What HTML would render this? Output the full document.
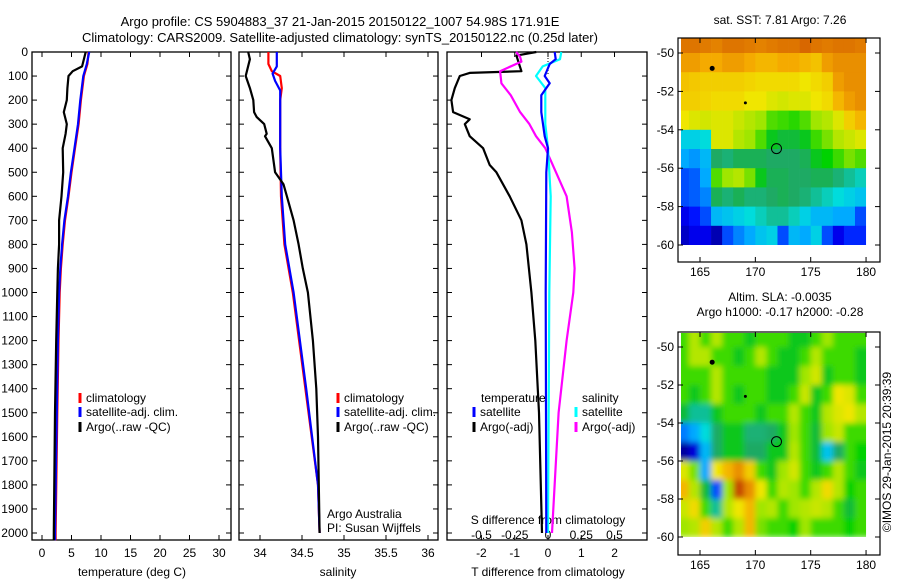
<!DOCTYPE html>
<html><head><meta charset="utf-8"><style>
body{margin:0;background:#fff}
svg{display:block;font-family:"Liberation Sans",sans-serif}
text{font-size:12px;fill:#000}
</style></head><body>
<svg id="c" width="900" height="580" viewBox="0 0 900 580" xmlns="http://www.w3.org/2000/svg">
<defs>
<filter id="blur" x="-5%" y="-5%" width="110%" height="110%"><feGaussianBlur stdDeviation="3"/></filter>
<clipPath id="slaclip"><rect x="679" y="333" width="189" height="211"/></clipPath>
</defs>
<text x="340" y="26" text-anchor="middle" style="font-size:13px">Argo profile: CS 5904883_37 21-Jan-2015 20150122_1007 54.98S 171.91E</text>
<text x="340" y="42" text-anchor="middle" style="font-size:13px">Climatology: CARS2009. Satellite-adjusted climatology: synTS_20150122.nc (0.25d later)</text>
<g id="g"></g>
</svg>
<script>
// ---- depth-axis data ----
const depthTicks=[0,100,200,300,400,500,600,700,800,900,1000,1100,1200,1300,1400,1500,1600,1700,1800,1900,2000];
// temperature panel
const tempTicks=[0,5,10,15,20,25,30];
const tClimD=[0,50,100,200,300,400,500,600,700,800,900,1000,1200,1500,2000,2030];
const tClimV=[7.9,7.7,7.1,6.6,6.2,5.6,5.0,4.5,3.9,3.5,3.2,3.0,2.8,2.6,2.3,2.3];
const tSatD=[0,50,100,200,300,400,500,600,700,800,900,1000,1200,1500,2000,2030];
const tSatV=[8.0,7.6,7.0,6.5,6.1,5.5,4.9,4.4,3.8,3.4,3.1,2.9,2.7,2.5,2.2,2.2];
const tArgoD=[0,20,60,80,100,150,200,250,300,340,400,500,600,700,800,900,1000,1200,1500,2000,2030];
const tArgoV=[7.4,7.2,6.8,5.2,4.5,4.3,4.2,3.7,4.2,4.0,3.5,3.6,3.3,2.9,2.9,2.7,2.6,2.4,2.2,2.0,2.0];
// salinity panel
const salTicks=[34,34.5,35,35.5,36];
const sClimD=[0,50,80,100,150,200,400,600,800,1000,1400,1800,2000];
const sClimV=[34.1,34.1,34.14,34.24,34.26,34.24,34.24,34.25,34.29,34.39,34.54,34.69,34.71];
const sSatD=[0,60,90,120,160,200,400,600,800,1000,1400,1800,2000];
const sSatV=[34.2,34.2,34.15,34.18,34.24,34.24,34.24,34.26,34.30,34.40,34.55,34.69,34.71];
const sArgoD=[0,30,100,150,200,250,270,300,340,350,400,500,550,600,700,800,900,1000,1200,1400,1600,1800,2000];
const sArgoV=[33.86,33.88,33.83,33.88,33.92,33.93,33.96,34.05,34.08,34.06,34.14,34.18,34.28,34.32,34.40,34.46,34.51,34.57,34.63,34.67,34.69,34.70,34.71];
// difference panel
const dTTicks=[-2,-1,0,1,2];
const dSTicks=[-0.5,-0.25,0,0.25,0.5];
const dTArgoD=[0,15,80,87,100,150,200,250,280,300,350,400,470,500,600,700,800,1000,1200,1500,2000];
const dTArgoV=[-0.35,-0.95,-0.8,-2.35,-2.65,-2.8,-2.9,-2.85,-2.35,-2.5,-2.35,-1.95,-1.75,-1.55,-1.15,-0.8,-0.65,-0.5,-0.38,-0.27,-0.18];
const dTSatD=[0,30,50,100,130,180,250,350,400,500,1000,2000];
const dTSatV=[0.2,0.23,0.05,-0.1,0.05,-0.2,-0.2,-0.1,0,-0.05,-0.07,-0.05];
const dSArgoD=[0,20,40,80,130,180,250,300,350,400,500,600,750,900,1000,1200,1500,2000];
const dSArgoV=[-0.24,-0.21,-0.2,-0.36,-0.35,-0.28,-0.21,-0.14,-0.09,-0.02,0.06,0.14,0.18,0.2,0.19,0.14,0.08,0.03];
const dSSatD=[0,30,60,100,150,200,300,400,600,1000,2000];
const dSSatV=[0.1,0.09,-0.04,-0.09,-0.02,-0.02,-0.02,0,0.02,0.01,0];
// maps (values 0..1 colour index), rows lat -49.5 .. -59.5, cols lon 163.5 .. 179.5
const sstGrid=[
[.86,.86,.85,.84,.86,.86,.85,.84,.85,.86,.86,.88,.86,.85,.86,.86,.85],
[.8,.8,.78,.78,.8,.8,.78,.76,.76,.78,.78,.76,.74,.8,.82,.82,.82],
[.74,.73,.72,.72,.72,.72,.71,.7,.7,.7,.7,.68,.7,.72,.8,.82,.82],
[.72,.72,.71,.7,.7,.7,.68,.68,.66,.65,.66,.66,.68,.7,.76,.8,.82],
[.68,.66,.65,.66,.66,.64,.62,.6,.56,.55,.54,.56,.6,.62,.66,.72,.76],
[.36,.36,.38,.66,.66,.62,.6,.56,.5,.48,.48,.5,.55,.58,.62,.64,.66],
[.3,.28,.32,.45,.44,.46,.46,.46,.45,.45,.45,.46,.5,.52,.55,.58,.56],
[.2,.22,.3,.56,.6,.62,.58,.5,.46,.46,.45,.45,.46,.46,.44,.42,.4],
[.2,.22,.26,.46,.44,.46,.44,.44,.45,.46,.45,.44,.42,.4,.38,.36,.34],
[.1,.14,.2,.32,.34,.36,.38,.4,.42,.42,.4,.36,.32,.32,.3,.3,.2],
[.06,.1,.1,.04,.2,.26,.3,.34,.36,.2,.32,.3,.36,.2,.1,.16,.16]];
const slaGrid=[
[.55,.62,.55,.62,.55,.55,.5,.55,.55,.55,.5,.5,.55,.6,.55,.55,.55],
[.55,.62,.62,.55,.55,.5,.55,.62,.55,.5,.5,.55,.62,.55,.55,.55,.5],
[.55,.55,.55,.62,.55,.55,.55,.55,.5,.5,.5,.6,.65,.5,.55,.55,.5],
[.55,.5,.55,.62,.55,.5,.55,.55,.5,.5,.55,.64,.5,.55,.68,.66,.55],
[.48,.42,.42,.5,.55,.55,.55,.5,.55,.55,.62,.55,.5,.62,.66,.68,.62],
[.25,.3,.38,.45,.5,.5,.44,.44,.45,.5,.6,.55,.48,.6,.64,.55,.55],
[.02,.08,.32,.45,.5,.5,.45,.45,.5,.5,.62,.55,.48,.34,.45,.55,.52],
[.66,.58,.3,.68,.76,.82,.72,.55,.5,.6,.65,.55,.5,.55,.62,.55,.5],
[.76,.62,.48,.2,.6,.92,.82,.68,.55,.62,.6,.55,.62,.7,.62,.52,.55],
[.64,.7,.55,.42,.62,.68,.76,.6,.62,.55,.6,.62,.64,.62,.55,.48,.55],
[.6,.62,.72,.62,.55,.62,.76,.58,.55,.55,.52,.6,.55,.55,.55,.52,.55]];
const latTicks=[-50,-52,-54,-56,-58,-60];
const lonTicks=[165,170,175,180];

const NS="http://www.w3.org/2000/svg";
const G=document.getElementById('g');
function el(t,a,p){const e=document.createElementNS(NS,t);for(const k in a)e.setAttribute(k,a[k]);(p||G).appendChild(e);return e;}
const Y0=52,YB=540;
function yD(d){return Y0+0.2405*d;}
const panels=[
 {x0:32,x1:231,f:v=>42+5.9*v,name:'temperature'},
 {x0:239,x1:438,f:v=>260+84*(v-34),name:'salinity'},
 {x0:447,x1:647,f:v=>548+33.3*v,name:'difference'}];
function frame(p){
 const r=el('rect',{x:p.x0,y:Y0,width:p.x1-p.x0,height:YB-Y0,fill:'none',stroke:'#000','stroke-width':1.3});
 
 
 depthTicks.forEach(d=>{const y=yD(d);
  el('line',{x1:p.x0,x2:p.x0+5,y1:y,y2:y,stroke:'#000'});
  el('line',{x1:p.x1,x2:p.x1-5,y1:y,y2:y,stroke:'#000'});});
}
panels.forEach(frame);
depthTicks.forEach(d=>{const t=el('text',{x:28,y:yD(d)+4,'text-anchor':'end'});t.textContent=d;
 
 });
function xticks(p,ticks,f,ly,top){
 ticks.forEach(v=>{const x=f(v);
  el('line',{x1:x,x2:x,y1:YB,y2:YB-5,stroke:'#000'});
  if(top)el('line',{x1:x,x2:x,y1:Y0,y2:Y0+5,stroke:'#000'});
  const t=el('text',{x:x,y:ly,'text-anchor':'middle'});t.textContent=v;
  
  });
}
xticks(panels[0],tempTicks,panels[0].f,557,true);
xticks(panels[1],salTicks,panels[1].f,557,true);
xticks(panels[2],dTTicks,panels[2].f,557,false);
const fS=v=>548+133*v;
dSTicks.forEach(v=>{const x=fS(v);el('line',{x1:x,x2:x,y1:Y0,y2:Y0+5,stroke:'#000'});
 const t=el('text',{x:x,y:539,'text-anchor':'middle'});t.textContent=v;
 
 });
function txt(x,y,s,name,anchor){const t=el('text',{x:x,y:y,'text-anchor':anchor||'start'});t.textContent=s;
 
 return t;}
txt(132,576,'temperature (deg C)','temperature-axis-title','middle');
txt(338,576,'salinity','salinity-axis-title','middle');
txt(548,576,'T difference from climatology','t-diff-axis-title','middle');
txt(548,524,'S difference from climatology','s-diff-axis-title','middle');
function line(D,V,f,col,name,w){
 const pts=D.map((d,i)=>f(V[i]).toFixed(1)+','+yD(d).toFixed(1)).join(' ');
 const l=el('polyline',{points:pts,fill:'none',stroke:col,'stroke-width':w||2.2,'stroke-linejoin':'round'});
 
 
}
line(tClimD,tClimV,panels[0].f,'#f00','temp-climatology-line');
line(tSatD,tSatV,panels[0].f,'#00f','temp-satellite-line');
line(tArgoD,tArgoV,panels[0].f,'#000','temp-argo-line');
line(sClimD,sClimV,panels[1].f,'#f00','sal-climatology-line');
line(sSatD,sSatV,panels[1].f,'#00f','sal-satellite-line');
line(sArgoD,sArgoV,panels[1].f,'#000','sal-argo-line');
el('line',{x1:548,x2:548,y1:Y0,y2:yD(100),stroke:'#000','stroke-dasharray':'1,2'});
line(dTArgoD,dTArgoV,panels[2].f,'#000','t-diff-argo-line');
line(dSArgoD,dSArgoV,fS,'#f0f','s-diff-argo-line');
line(dSSatD,dSSatV,fS,'#0ff','s-diff-satellite-line');
line(dTSatD,dTSatV,panels[2].f,'#00f','t-diff-satellite-line');
function leg(x,y,col,s,name){el('line',{x1:x,x2:x,y1:y-9,y2:y+1,stroke:col,'stroke-width':3});txt(x+6,y,s,name);}
leg(80,402,'#f00','climatology','legend-climatology');
leg(80,416,'#00f','satellite-adj. clim.','legend-satellite');
leg(80,431,'#000','Argo(..raw -QC)','legend-argo');
leg(338,402,'#f00','climatology','legend-climatology');
leg(338,416,'#00f','satellite-adj. clim.','legend-satellite');
leg(338,431,'#000','Argo(..raw -QC)','legend-argo');
txt(481,402,'temperature','legend-temperature-header');
leg(474,416,'#00f','satellite','legend-t-satellite');
leg(474,431,'#000','Argo(-adj)','legend-t-argo');
txt(582,402,'salinity','legend-salinity-header');
leg(576,416,'#0ff','satellite','legend-s-satellite');
leg(576,431,'#f0f','Argo(-adj)','legend-s-argo');
txt(327,518,'Argo Australia','argo-australia-label');
txt(327,532,'PI: Susan Wijffels','pi-label');
const stops=[[0,[0,0,140]],[.12,[0,0,255]],[.3,[0,170,255]],[.38,[0,220,220]],[.45,[30,170,100]],[.52,[0,210,0]],[.6,[160,230,0]],[.68,[240,230,0]],[.78,[245,170,0]],[.9,[210,90,0]],[1,[150,0,0]]];
function cmap(v){for(let i=1;i<stops.length;i++){if(v<=stops[i][0]){const a=stops[i-1],b=stops[i],t=(v-a[0])/(b[0]-a[0]);const c=a[1].map((x,k)=>Math.round(x+(b[1][k]-x)*t));return 'rgb('+c+')';}}return 'rgb(150,0,0)';}
function map(top,bot,grid,name,lat50y,pxLat,smooth){
 const fx=lon=>700+11.07*(lon-165), fy=lat=>lat50y+pxLat*(-50-lat);
 let holder=G;
 if(smooth){const c=el('g',{'clip-path':'url(#slaclip)'});holder=el('g',{filter:'url(#blur)'},c);}
 grid.forEach((row,r)=>row.forEach((v,c)=>{
  const lon0=163+c, lat0=-49+(-r)*1;
  const x=fx(lon0),y=smooth?fy(lat0)-(r==0?10:0):Math.max(top,fy(lat0));
  const w=11.4+(smooth&&c==row.length-1?10:0);
  const rc=el('rect',{x:smooth&&c==0?x-10:x,y:y,width:smooth&&c==0?w+10:w,height:fy(lat0-1)-y+0.4,fill:cmap(v)},holder);
  
  }));
 el('rect',{x:fx(180),y:top,width:12,height:bot-top,fill:'#fff'});
 el('rect',{x:677,y:top,width:4,height:bot-top,fill:'#fff'});
 el('rect',{x:678,y:fy(-60),width:202,height:bot-fy(-60),fill:'#fff'});
 const f=el('rect',{x:678,y:top,width:202,height:bot-top,fill:'none',stroke:'#000','stroke-width':1.2});
 
 
 latTicks.forEach(l=>{const y=fy(l);el('line',{x1:678,x2:683,y1:y,y2:y,stroke:'#000'});el('line',{x1:880,x2:875,y1:y,y2:y,stroke:'#000'});
  txt(674,y+4,l,name+'-lat-label','end');});
 lonTicks.forEach(l=>{const x=fx(l);el('line',{x1:x,x2:x,y1:bot,y2:bot-5,stroke:'#000'});el('line',{x1:x,x2:x,y1:top,y2:top+5,stroke:'#000'});
  txt(x,bot+14,l,name+'-lon-label','middle');});
 const c=el('circle',{cx:fx(171.91),cy:fy(-54.98),r:5,fill:'none',stroke:'#000'});
 
 
 el('circle',{cx:fx(166.1),cy:fy(-50.8),r:2.5,fill:'#000'});
 el('circle',{cx:fx(169.1),cy:fy(-52.6),r:1.5,fill:'#000'});
}
map(38,262,sstGrid,'sst-map',53,19.2,false);
map(332,555,slaGrid,'sla-map',347,19,true);
txt(780,24,'sat. SST: 7.81 Argo: 7.26','sst-map-title','middle');
txt(780,301,'Altim. SLA: -0.0035','sla-map-title','middle');
txt(780,316,'Argo h1000: -0.17 h2000: -0.28','sla-map-subtitle','middle');
const v=txt(0,0,'©IMOS 29-Jan-2015 20:39:39','imos-timestamp','middle');
v.setAttribute('transform','translate(891,452) rotate(-90)');
</script>
</body></html>
